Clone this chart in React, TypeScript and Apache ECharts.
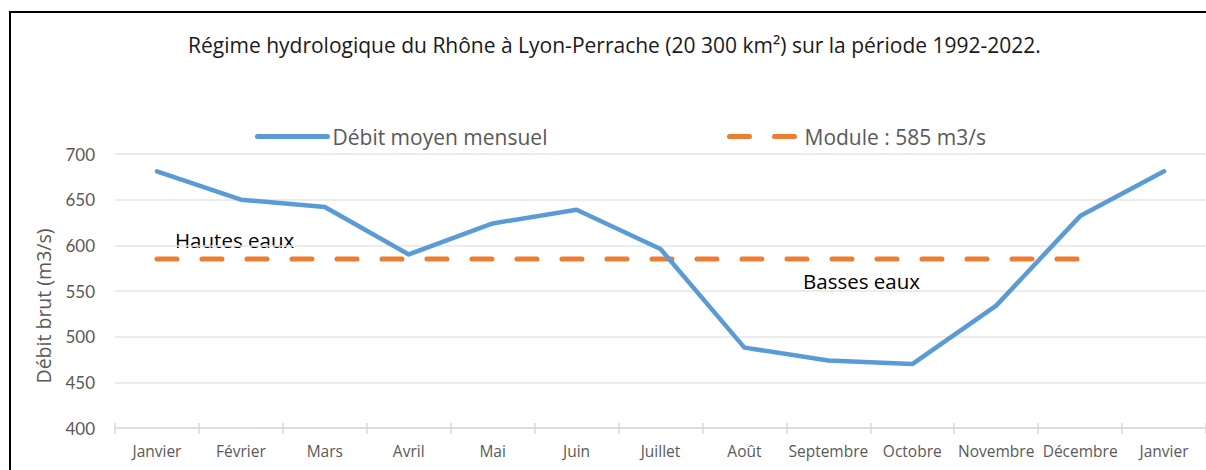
import React, { useEffect, useRef } from "react";
import * as echarts from "echarts";

const months = ["Janvier", "Février", "Mars", "Avril", "Mai", "Juin", "Juillet", "Août", "Septembre", "Octobre", "Novembre", "Décembre", "Janvier"];
const debitMoyen = [681, 650, 642, 590, 624, 639, 596, 488, 474, 470, 534, 632, 681];
const moduleValue = 585;
const moduleSpan = 12; // Janvier .. Décembre
const moduleLine = Array.from({ length: moduleSpan }, () => moduleValue);

const titleText = "Régime hydrologique du Rhône à Lyon-Perrache (20 300 km²) sur la période 1992-2022.";
const serieNames = ["Débit moyen mensuel", "Module : 585 m3/s"];
const yAxisTitle = "Débit brut (m3/s)";
const FONT = "Lato, 'Open Sans', sans-serif";
const FONT2 = "'Open Sans', Lato, sans-serif";

export default function App() {
  const ref = useRef<HTMLDivElement>(null);
  useEffect(() => {
    if (!ref.current) return;
    const chart = echarts.init(ref.current, null, { renderer: "svg" });
    const legendCommon = {
      top: 126,
      padding: 0,
      itemWidth: 70,
      itemHeight: 20,
      itemGap: 8,
      itemStyle: { color: "transparent", borderWidth: 0, opacity: 0 },
      lineStyle: { width: 5 },
      textStyle: { fontFamily: FONT2, fontSize: 21, color: "#595959" },
    };
    chart.setOption({
      animation: false,
      backgroundColor: "#ffffff",
      textStyle: { fontFamily: FONT },
      title: {
        text: titleText,
        left: 188,
        top: 34,
        padding: 0,
        textStyle: { fontFamily: FONT2, fontSize: 21, fontWeight: "normal", color: "#1a1a1a" },
      },
      legend: [
        { ...legendCommon, data: [serieNames[0]], left: 255 },
        { ...legendCommon, data: [serieNames[1]], left: 727 },
      ],
      grid: { left: 115, top: 154, width: 1104, height: 274, containLabel: false },
      xAxis: [
        {
          type: "category",
          data: months,
          boundaryGap: true,
          axisLine: { lineStyle: { color: "#d9d9d9", width: 1.5 } },
          axisTick: { show: true, length: 6, lineStyle: { color: "#d9d9d9", width: 1.5 } },
          axisLabel: { color: "#595959", fontSize: 15.5, margin: 15, fontFamily: FONT2, interval: 0 },
        },
        {
          type: "category",
          data: months,
          position: "bottom",
          boundaryGap: true,
          axisLine: { show: false },
          axisTick: { show: true, inside: true, length: 5, lineStyle: { color: "#d9d9d9", width: 1.5 } },
          axisLabel: { show: false },
        },
      ],
      yAxis: {
        type: "value",
        min: 400,
        max: 700,
        interval: 50,
        axisLine: { show: false },
        axisTick: { show: false },
        axisLabel: { color: "#595959", fontSize: 17, margin: 20, fontFamily: FONT },
        splitLine: { lineStyle: { color: "#e6e6e6", width: 1.5 } },
      },
      series: [
        {
          name: serieNames[0],
          type: "line",
          data: debitMoyen,
          symbol: "none",
          lineStyle: { color: "#5b9bd5", width: 4.5, cap: "round", join: "round" },
          itemStyle: { color: "#5b9bd5" },
          z: 3,
        },
        {
          name: serieNames[1],
          type: "line",
          data: moduleLine,
          symbol: "none",
          lineStyle: { color: "#ed7d31", width: 5, type: [20, 25], cap: "round" },
          itemStyle: { color: "#ed7d31" },
          z: 2,
        },
      ],
      graphic: [
        {
          type: "rect",
          shape: { x: 10, y: 12, width: 1220, height: 480 },
          style: { fill: "none", stroke: "#000000", lineWidth: 2 },
          silent: true,
        },
        {
          type: "text",
          x: 43,
          y: 306,
          rotation: Math.PI / 2,
          style: {
            text: yAxisTitle,
            fontFamily: FONT2,
            fontSize: 19.5,
            fill: "#595959",
            textAlign: "center",
            textVerticalAlign: "middle",
          },
        },
        {
          type: "text",
          x: 175,
          y: 240,
          style: { text: "Hautes eaux", fontFamily: FONT2, fontSize: 20.5, fill: "#000000", textVerticalAlign: "middle" },
        },
        {
          type: "text",
          x: 803,
          y: 281,
          style: { text: "Basses eaux", fontFamily: FONT2, fontSize: 20.5, fill: "#000000", textVerticalAlign: "middle" },
        },
      ],
    });
    return () => chart.dispose();
  }, []);
  return <div ref={ref} style={{ position: "absolute", left: 0, top: 0, width: 1206, height: 470 }} />;
}
